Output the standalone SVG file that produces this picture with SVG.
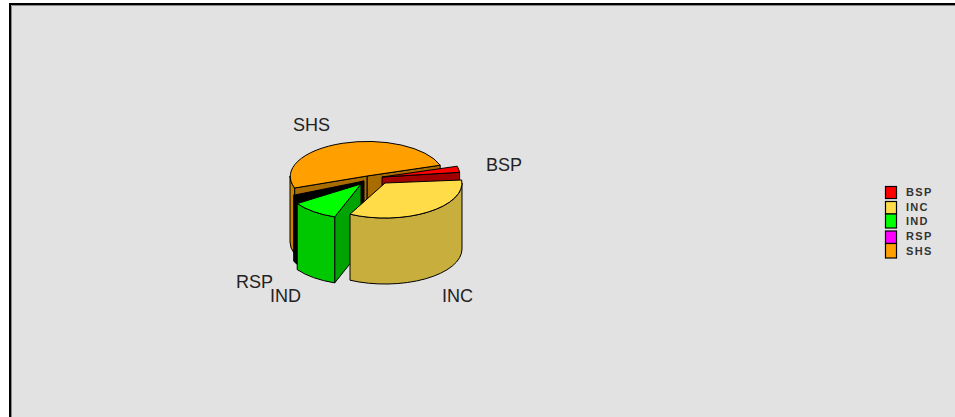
<svg xmlns="http://www.w3.org/2000/svg" width="955" height="417" viewBox="0 0 955 417">
<style>
.f{stroke:#000;stroke-width:1;stroke-linejoin:round}
.lbl{font-family:"Liberation Sans",Arial,sans-serif;font-size:18px;fill:#222}
.leg{font-family:"Liberation Sans",Arial,sans-serif;font-size:11px;font-weight:bold;fill:#333;letter-spacing:1.3px}
.box{stroke:#000;stroke-width:1.2}
</style>
<rect x="0" y="0" width="955" height="417" fill="#ffffff"/>
<rect x="10" y="4" width="950" height="420" fill="#e2e2e2" stroke="#000" stroke-width="2"/>
<path d="M11.5,420 V5.5 H955" fill="none" stroke="#8a8a8a" stroke-width="1"/>

<g id="slice-SHS">
  <path class="f" fill="#a86c00" d="M367,176 L440.2,165.2 L440.2,231.2 L367,242 Z"/>
  <path class="f" fill="#a86c00" d="M367,176 L294.6,188 L294.6,254 L367,242 Z"/>
  <path class="f" fill="#c88200" d="M294.6,188 A77 35 0 0 1 290,176 L290,242 A77 35 0 0 0 294.6,254 Z"/>
  <path class="f" fill="#ffa000" d="M367,176 L294.6,188 A77 35 0 1 1 440.2,165.2 Z"/>
</g>
<g id="slice-BSP">
  <path class="f" fill="#a00000" d="M382,177 L459.6,172.3 L459.6,238.3 L382,243 Z"/>
  <path class="f" fill="#ff0000" d="M382,177 L457.2,166.2 A77 35 0 0 1 459.6,172.3 Z"/>
</g>
<g id="slice-RSP">
  <path class="f" fill="#000" d="M364,181 L298.7,199.5 L298.7,265.5 L364,247 Z"/>
  <path class="f" fill="#000" d="M298.7,199.5 A77 35 0 0 1 293.7,195.2 L293.7,261.2 A77 35 0 0 0 298.7,265.5 Z"/>
  <path class="f" fill="#000" d="M364,181 L298.7,199.5 A77 35 0 0 1 293.7,195.2 Z"/>
</g>
<g id="slice-IND">
  <path class="f" fill="#00a400" d="M361,184 L334.7,216.9 L334.7,282.9 L361,250 Z"/>
  <path class="f" fill="#00c800" d="M334.7,216.9 A77 35 0 0 1 297.2,203.6 L297.2,269.6 A77 35 0 0 0 334.7,282.9 Z"/>
  <path class="f" fill="#00ff00" d="M361,184 L334.7,216.9 A77 35 0 0 1 297.2,203.6 Z"/>
</g>
<g id="slice-INC">
  <path class="f" fill="#c8ae3c" d="M462,183 A77 35 0 0 1 350,214.2 L350,280.2 A77 35 0 0 0 462,249 Z"/>
  <path class="f" fill="#ffdc48" d="M385,183 L461.7,180 A77 35 0 0 1 350,214.2 Z"/>
</g>

<g id="labels">
  <text class="lbl" x="293" y="131">SHS</text>
  <text class="lbl" x="486" y="171">BSP</text>
  <text class="lbl" x="442" y="302">INC</text>
  <text class="lbl" x="270" y="302">IND</text>
  <text class="lbl" x="236" y="288">RSP</text>
</g>

<g id="legend">
  <rect class="box" x="885.5" y="186.5" width="11" height="12" fill="#ff0000"/>
  <rect class="box" x="885.5" y="201.5" width="11" height="12.5" fill="#ffdc48"/>
  <rect class="box" x="885.5" y="214" width="11" height="14" fill="#00ff00"/>
  <rect class="box" x="885.5" y="231" width="11" height="12.5" fill="#ff00ff"/>
  <rect class="box" x="885.5" y="243.5" width="11" height="14.5" fill="#ffa000"/>
  <text class="leg" x="906" y="196">BSP</text>
  <text class="leg" x="906" y="210.5">INC</text>
  <text class="leg" x="906" y="225">IND</text>
  <text class="leg" x="906" y="239.5">RSP</text>
  <text class="leg" x="906" y="255">SHS</text>
</g>
</svg>
